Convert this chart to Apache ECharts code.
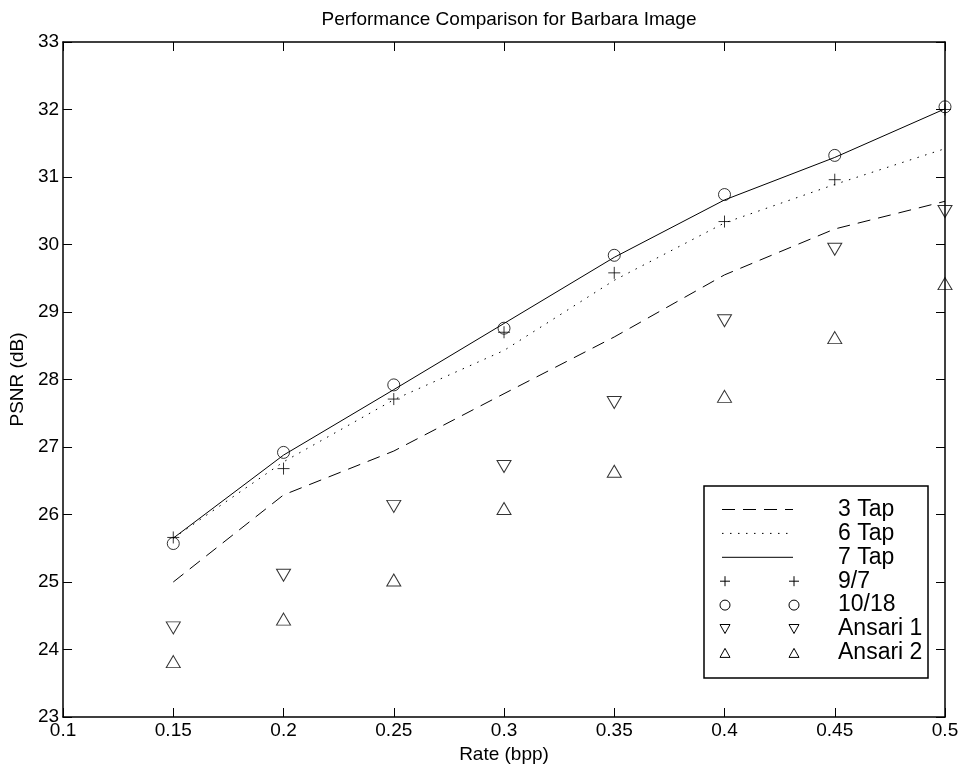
<!DOCTYPE html>
<html>
<head>
<meta charset="utf-8">
<script src="https://cdn.jsdelivr.net/npm/echarts@6/dist/echarts.min.js"></script>
<style>
html,body{margin:0;padding:0;background:#fff;}
#chart{width:964px;height:774px;}
</style>
</head>
<body>
<div id="chart"></div>
<script>
// ---- data ----
var rates = [0.15, 0.2, 0.25, 0.3, 0.35, 0.4, 0.45, 0.5];
var tap3 = [25.00, 26.29, 26.94, 27.79, 28.63, 29.55, 30.23, 30.64];
var tap6 = [25.65, 26.78, 27.70, 28.43, 29.47, 30.32, 30.89, 31.42];
var tap7 = [25.65, 26.88, 27.85, 28.83, 29.81, 30.66, 31.29, 32.01];
var w97 = [25.66, 26.68, 27.71, 28.70, 29.58, 30.34, 30.96, 32.00];
var w1018 = [25.57, 26.92, 27.92, 28.76, 29.84, 30.74, 31.32, 32.04];
var ansari1 = [24.32, 25.10, 26.12, 26.71, 27.66, 28.87, 29.93, 30.49];
var ansari2 = [23.82, 24.45, 25.03, 26.09, 26.64, 27.75, 28.62, 29.42];
var xTickLabels = ['0.1', '0.15', '0.2', '0.25', '0.3', '0.35', '0.4', '0.45', '0.5'];
var yTickLabels = ['23', '24', '25', '26', '27', '28', '29', '30', '31', '32', '33'];
var seriesNames = ['3 Tap', '6 Tap', '7 Tap', '9/7', '10/18', 'Ansari 1', 'Ansari 2'];

function pairs(ys) { return rates.map(function (x, i) { return [x, ys[i]]; }); }

var FONT = '"Liberation Sans", Arial, Helvetica, sans-serif';
var PLUS = 'path://M0,5L10,5M5,0L5,10';

var chart = echarts.init(document.getElementById('chart'), null, {renderer: 'canvas'});

var grid = {left: 63, right: 19, top: 42, bottom: 57, containLabel: false};

function xAxisCfg(pos, showLabels) {
  return {
    type: 'value', position: pos, min: 0.1, max: 0.5, interval: 0.05,
    axisLine: {show: true, onZero: false, lineStyle: {color: '#000', width: 1.5}},
    axisTick: {show: true, inside: true, length: 9, lineStyle: {color: '#000', width: 1}},
    splitLine: {show: false},
    axisLabel: {show: showLabels, margin: 4, color: '#000', fontSize: 19, fontFamily: FONT,
      formatter: function (v, i) { return xTickLabels[i]; }},
    name: showLabels ? 'Rate (bpp)' : '', nameLocation: 'middle', nameGap: 21,
    nameTextStyle: {color: '#000', fontSize: 19, fontFamily: FONT}
  };
}
function yAxisCfg(pos, showLabels) {
  return {
    type: 'value', position: pos, min: 23, max: 33, interval: 1,
    axisLine: {show: true, onZero: false, lineStyle: {color: '#000', width: 1.5}},
    axisTick: {show: true, inside: true, length: 9, lineStyle: {color: '#000', width: 1}},
    splitLine: {show: false},
    axisLabel: {show: showLabels, margin: 4, color: '#000', fontSize: 19, fontFamily: FONT,
      formatter: function (v, i) { return yTickLabels[i]; }},
    name: showLabels ? 'PSNR (dB)' : '', nameLocation: 'middle', nameGap: 34, nameRotate: 90,
    nameTextStyle: {color: '#000', fontSize: 19, fontFamily: FONT}
  };
}

function lineSeries(name, ys, dash) {
  return {
    name: name, type: 'line', data: pairs(ys), showSymbol: false, symbol: 'none',
    xAxisIndex: 0, yAxisIndex: 0, z: 2,
    lineStyle: {color: '#000', width: 1, type: dash, cap: 'butt'},
    emphasis: {disabled: true}
  };
}
function markerSeries(name, ys, symbol, size, rotate) {
  return {
    name: name, type: 'scatter', data: pairs(ys), symbol: symbol, symbolSize: size,
    symbolRotate: rotate || 0, xAxisIndex: 0, yAxisIndex: 0, z: 3,
    itemStyle: {color: 'rgba(0,0,0,0)', borderColor: '#000', borderWidth: 1},
    emphasis: {disabled: true}
  };
}

// ---- legend drawn MATLAB-style (line sample with two end markers) ----
var legendBox = {x: 704, y: 486, w: 224, h: 192};
var rowTop = 509.5, rowStep = 23.9, sx1 = 722, sx2 = 793, tx = 838;
var legendStyles = [
  {kind: 'line', dash: [13, 8]},
  {kind: 'line', dash: [1.5, 6.5]},
  {kind: 'line', dash: null},
  {kind: 'plus'},
  {kind: 'circle'},
  {kind: 'tridown'},
  {kind: 'triup'}
];
var graphics = [{
  type: 'rect', z: 10,
  shape: {x: legendBox.x, y: legendBox.y, width: legendBox.w, height: legendBox.h},
  style: {fill: '#fff', stroke: '#000', lineWidth: 1.5}
}];
function markerGraphic(kind, cx, cy) {
  var s = 5;
  if (kind === 'plus') {
    return [
      {type: 'line', z: 11, shape: {x1: cx - s, y1: cy, x2: cx + s, y2: cy}, style: {stroke: '#000', lineWidth: 1}},
      {type: 'line', z: 11, shape: {x1: cx, y1: cy - s, x2: cx, y2: cy + s}, style: {stroke: '#000', lineWidth: 1}}
    ];
  }
  if (kind === 'circle') {
    return [{type: 'circle', z: 11, shape: {cx: cx, cy: cy, r: s}, style: {fill: 'none', stroke: '#000', lineWidth: 1}}];
  }
  if (kind === 'tridown') {
    return [{type: 'polygon', z: 11, shape: {points: [[cx - s, cy - 4.5], [cx + s, cy - 4.5], [cx, cy + 4.5]]}, style: {fill: 'none', stroke: '#000', lineWidth: 1}}];
  }
  return [{type: 'polygon', z: 11, shape: {points: [[cx - s, cy + 4.5], [cx + s, cy + 4.5], [cx, cy - 4.5]]}, style: {fill: 'none', stroke: '#000', lineWidth: 1}}];
}
seriesNames.forEach(function (nm, i) {
  var cy = rowTop + i * rowStep;
  var st = legendStyles[i];
  if (st.kind === 'line') {
    var ls = {stroke: '#000', lineWidth: 1};
    if (st.dash) ls.lineDash = st.dash;
    graphics.push({type: 'line', z: 11, shape: {x1: sx1, y1: cy, x2: sx2, y2: cy}, style: ls});
  } else {
    graphics = graphics.concat(markerGraphic(st.kind, sx1 + 3, cy), markerGraphic(st.kind, sx2 + 1, cy));
  }
  graphics.push({type: 'text', z: 11, x: tx, y: cy,
    style: {text: nm, fill: '#000', font: '23px ' + FONT, verticalAlign: 'middle', align: 'left'}});
});

var option = {
  animation: false,
  backgroundColor: '#fff',
  title: {
    text: 'Performance Comparison for Barbara Image', left: 504, top: 5, textAlign: 'center',
    textStyle: {color: '#000', fontSize: 19, fontWeight: 'normal', fontFamily: FONT}
  },
  grid: grid,
  xAxis: [xAxisCfg('bottom', true), xAxisCfg('top', false)],
  yAxis: [yAxisCfg('left', true), yAxisCfg('right', false)],
  series: [
    lineSeries(seriesNames[0], tap3, [13, 8]),
    lineSeries(seriesNames[1], tap6, [1.5, 6.5]),
    lineSeries(seriesNames[2], tap7, 'solid'),
    markerSeries(seriesNames[3], w97, PLUS, 12),
    markerSeries(seriesNames[4], w1018, 'circle', 12),
    markerSeries(seriesNames[5], ansari1, 'triangle', [14, 12], 180),
    markerSeries(seriesNames[6], ansari2, 'triangle', [14, 12], 0)
  ],
  graphic: graphics
};
chart.setOption(option);
</script>
</body>
</html>
